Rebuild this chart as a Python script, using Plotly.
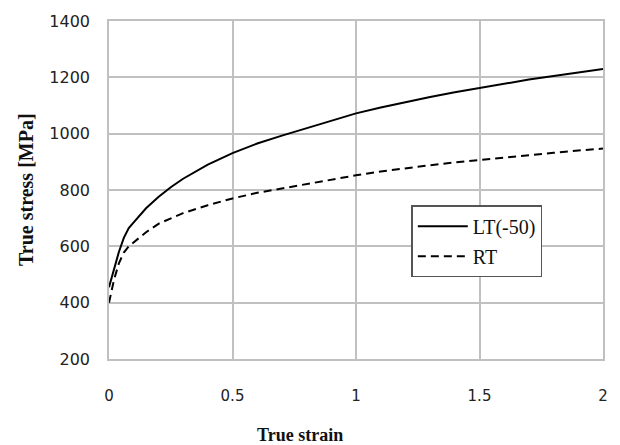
import plotly.graph_objects as go

strain = [0, 0.02, 0.04, 0.06, 0.08, 0.1, 0.15, 0.2, 0.25, 0.3, 0.4, 0.5, 0.6, 0.7,
          0.8, 0.9, 1.0, 1.1, 1.2, 1.3, 1.4, 1.5, 1.6, 1.7, 1.8, 1.9, 2.0]
lt_stress = [455, 520, 580, 630, 665, 685, 735, 775, 810, 840, 890, 931, 965, 993,
             1020, 1046, 1072, 1093, 1112, 1130, 1147, 1162, 1178, 1192, 1205, 1218, 1230]
rt_stress = [400, 480, 540, 578, 600, 615, 650, 680, 700, 718, 746, 770, 790, 806,
             822, 838, 852, 866, 878, 888, 898, 907, 916, 924, 932, 940, 947]

x_ticks = [0, 0.5, 1, 1.5, 2]
x_tick_labels = ["0", "0.5", "1", "1.5", "2"]
y_ticks = [200, 400, 600, 800, 1000, 1200, 1400]

fig = go.Figure()
fig.add_trace(go.Scatter(x=strain, y=lt_stress, mode="lines", name="LT(-50)",
                         legendgroup="a",
                         line=dict(color="#000000", width=2)))
fig.add_trace(go.Scatter(x=strain, y=rt_stress, mode="lines", name="RT",
                         legendgroup="b",
                         line=dict(color="#000000", width=2, dash="8px,5px")))

grid = "#c0c0c0"
fig.update_layout(
    width=620, height=445,
    margin=dict(l=109, r=16, t=19, b=86),
    paper_bgcolor="white", plot_bgcolor="white",
    showlegend=True,
    legend=dict(x=0.612, y=0.455, xanchor="left", yanchor="top",
                bgcolor="white", bordercolor="#555555", borderwidth=1.5,
                font=dict(family="Liberation Serif", size=20, color="#111111"),
                tracegroupgap=1, itemwidth=50),
    xaxis=dict(range=[0, 2], tickvals=x_ticks, ticktext=x_tick_labels,
               showgrid=True, gridcolor=grid, gridwidth=1.5,
               showline=True, linecolor=grid, linewidth=1.5, mirror=True,
               zeroline=False, ticks="", ticklabelstandoff=22,
               tickfont=dict(family="DejaVu Sans", size=15, color="#222222")),
    yaxis=dict(range=[200, 1400], tickvals=y_ticks,
               showgrid=True, gridcolor=grid, gridwidth=1.5,
               showline=True, linecolor=grid, linewidth=1.5, mirror=True,
               zeroline=False, ticks="", ticklabelstandoff=14,
               tickfont=dict(family="DejaVu Sans", size=16, color="#222222")),
    annotations=[
        dict(text="<b>True strain</b>", xref="paper", yref="paper",
             x=0.386, y=-0.224, xanchor="center", yanchor="middle",
             showarrow=False,
             font=dict(family="Liberation Serif", size=18, color="#111111")),
        dict(text="<b>True stress [MPa]</b>", xref="paper", yref="paper",
             x=-0.168, y=0.5, xanchor="center", yanchor="middle",
             textangle=-90, showarrow=False,
             font=dict(family="Liberation Serif", size=20, color="#111111")),
    ],
)

fig.write_html("out.html")
